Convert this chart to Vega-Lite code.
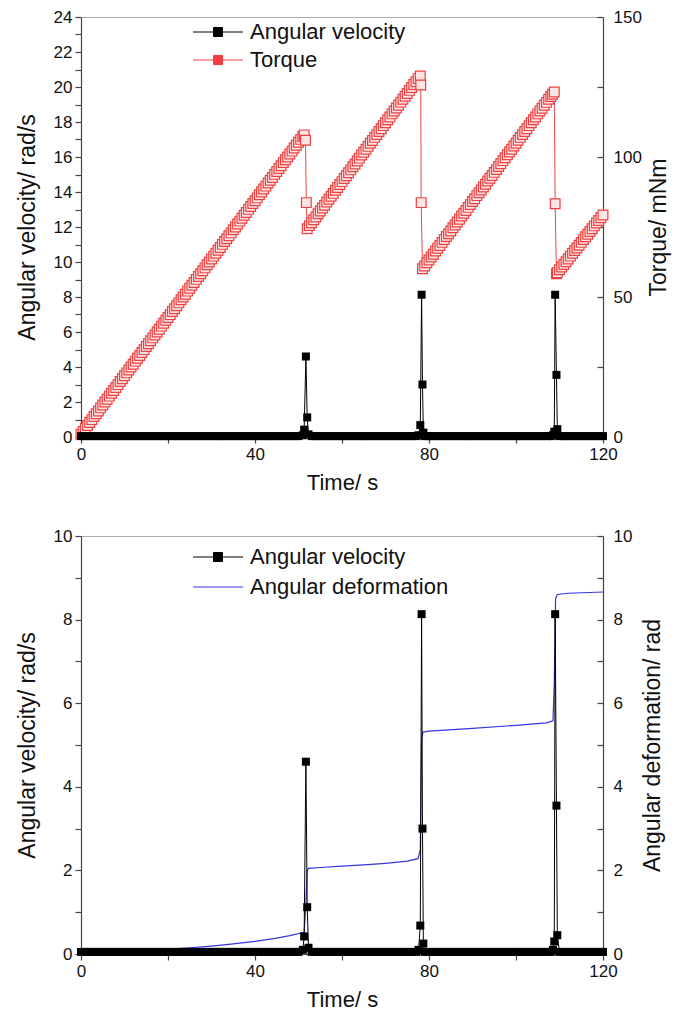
{
  "$schema": "https://vega.github.io/schema/vega-lite/v6.json",
  "padding": {"left": 15, "top": 7, "right": 5, "bottom": 3},
  "config": {
    "font": "Liberation Sans",
    "view": {"stroke": "#aaaaaa", "strokeWidth": 1},
    "axis": {"labelFontSize": 17, "titleFontSize": 22, "titleFontWeight": "normal", "labelColor": "#111111", "titleColor": "#111111", "domainColor": "#444444", "tickColor": "#444444", "domainWidth": 1.2, "tickWidth": 1.2, "grid": false, "tickSize": 6, "labelPadding": 3, "labelFlush": false, "labelOverlap": false}
  },
  "datasets": {
    "velocity": [
      {"t":0,"v":0.05},{"t":1,"v":0.05},{"t":2,"v":0.05},{"t":3,"v":0.05},{"t":4,"v":0.05},{"t":5,"v":0.05},{"t":6,"v":0.05},{"t":7,"v":0.05},{"t":8,"v":0.05},{"t":9,"v":0.05},
      {"t":10,"v":0.05},{"t":11,"v":0.05},{"t":12,"v":0.05},{"t":13,"v":0.05},{"t":14,"v":0.05},{"t":15,"v":0.05},{"t":16,"v":0.05},{"t":17,"v":0.05},{"t":18,"v":0.05},{"t":19,"v":0.05},
      {"t":20,"v":0.05},{"t":21,"v":0.05},{"t":22,"v":0.05},{"t":23,"v":0.05},{"t":24,"v":0.05},{"t":25,"v":0.05},{"t":26,"v":0.05},{"t":27,"v":0.05},{"t":28,"v":0.05},{"t":29,"v":0.05},
      {"t":30,"v":0.05},{"t":31,"v":0.05},{"t":32,"v":0.05},{"t":33,"v":0.05},{"t":34,"v":0.05},{"t":35,"v":0.05},{"t":36,"v":0.05},{"t":37,"v":0.05},{"t":38,"v":0.05},{"t":39,"v":0.05},
      {"t":40,"v":0.05},{"t":41,"v":0.05},{"t":42,"v":0.05},{"t":43,"v":0.05},{"t":44,"v":0.05},{"t":45,"v":0.05},{"t":46,"v":0.05},{"t":47,"v":0.05},{"t":48,"v":0.05},{"t":49,"v":0.05},
      {"t":50,"v":0.05},{"t":51,"v":0.1},{"t":51.3,"v":0.42},{"t":51.7,"v":4.6},{"t":52.0,"v":1.12},{"t":52.3,"v":0.15},
      {"t":53,"v":0.05},{"t":54,"v":0.05},{"t":55,"v":0.05},{"t":56,"v":0.05},{"t":57,"v":0.05},{"t":58,"v":0.05},{"t":59,"v":0.05},{"t":60,"v":0.05},{"t":61,"v":0.05},{"t":62,"v":0.05},
      {"t":63,"v":0.05},{"t":64,"v":0.05},{"t":65,"v":0.05},{"t":66,"v":0.05},{"t":67,"v":0.05},{"t":68,"v":0.05},{"t":69,"v":0.05},{"t":70,"v":0.05},{"t":71,"v":0.05},{"t":72,"v":0.05},
      {"t":73,"v":0.05},{"t":74,"v":0.05},{"t":75,"v":0.05},{"t":76,"v":0.05},{"t":77,"v":0.05},
      {"t":77.6,"v":0.1},{"t":78.0,"v":0.68},{"t":78.3,"v":8.13},{"t":78.5,"v":3.0},{"t":78.7,"v":0.25},
      {"t":79,"v":0.05},{"t":80,"v":0.05},{"t":81,"v":0.05},{"t":82,"v":0.05},{"t":83,"v":0.05},{"t":84,"v":0.05},{"t":85,"v":0.05},{"t":86,"v":0.05},{"t":87,"v":0.05},{"t":88,"v":0.05},
      {"t":89,"v":0.05},{"t":90,"v":0.05},{"t":91,"v":0.05},{"t":92,"v":0.05},{"t":93,"v":0.05},{"t":94,"v":0.05},{"t":95,"v":0.05},{"t":96,"v":0.05},{"t":97,"v":0.05},{"t":98,"v":0.05},
      {"t":99,"v":0.05},{"t":100,"v":0.05},{"t":101,"v":0.05},{"t":102,"v":0.05},{"t":103,"v":0.05},{"t":104,"v":0.05},{"t":105,"v":0.05},{"t":106,"v":0.05},{"t":107,"v":0.05},{"t":108,"v":0.05},
      {"t":108.5,"v":0.1},{"t":108.8,"v":0.3},{"t":109.0,"v":8.13},{"t":109.3,"v":3.55},{"t":109.5,"v":0.45},
      {"t":110,"v":0.05},{"t":111,"v":0.05},{"t":112,"v":0.05},{"t":113,"v":0.05},{"t":114,"v":0.05},{"t":115,"v":0.05},{"t":116,"v":0.05},{"t":117,"v":0.05},{"t":118,"v":0.05},{"t":119,"v":0.05},{"t":120,"v":0.05}
    ],
    "torque": [
      {"t":0,"q":1.0},{"t":0.5,"q":2.0},{"t":1,"q":3.1},{"t":1.5,"q":4.1},{"t":2,"q":5.2},{"t":2.5,"q":6.2},{"t":3,"q":7.3},{"t":3.5,"q":8.3},{"t":4,"q":9.3},{"t":4.5,"q":10.4},
      {"t":5,"q":11.4},{"t":5.5,"q":12.5},{"t":6,"q":13.5},{"t":6.5,"q":14.6},{"t":7,"q":15.6},{"t":7.5,"q":16.6},{"t":8,"q":17.7},{"t":8.5,"q":18.7},{"t":9,"q":19.8},{"t":9.5,"q":20.8},
      {"t":10,"q":21.9},{"t":10.5,"q":22.9},{"t":11,"q":23.9},{"t":11.5,"q":25.0},{"t":12,"q":26.0},{"t":12.5,"q":27.1},{"t":13,"q":28.1},{"t":13.5,"q":29.1},{"t":14,"q":30.2},{"t":14.5,"q":31.2},
      {"t":15,"q":32.3},{"t":15.5,"q":33.3},{"t":16,"q":34.4},{"t":16.5,"q":35.4},{"t":17,"q":36.4},{"t":17.5,"q":37.5},{"t":18,"q":38.5},{"t":18.5,"q":39.6},{"t":19,"q":40.6},{"t":19.5,"q":41.7},
      {"t":20,"q":42.7},{"t":20.5,"q":43.7},{"t":21,"q":44.8},{"t":21.5,"q":45.8},{"t":22,"q":46.9},{"t":22.5,"q":47.9},{"t":23,"q":49.0},{"t":23.5,"q":50.0},{"t":24,"q":51.0},{"t":24.5,"q":52.1},
      {"t":25,"q":53.1},{"t":25.5,"q":54.2},{"t":26,"q":55.2},{"t":26.5,"q":56.3},{"t":27,"q":57.3},{"t":27.5,"q":58.3},{"t":28,"q":59.4},{"t":28.5,"q":60.4},{"t":29,"q":61.5},{"t":29.5,"q":62.5},
      {"t":30,"q":63.6},{"t":30.5,"q":64.6},{"t":31,"q":65.6},{"t":31.5,"q":66.7},{"t":32,"q":67.7},{"t":32.5,"q":68.8},{"t":33,"q":69.8},{"t":33.5,"q":70.8},{"t":34,"q":71.9},{"t":34.5,"q":72.9},
      {"t":35,"q":74.0},{"t":35.5,"q":75.0},{"t":36,"q":76.1},{"t":36.5,"q":77.1},{"t":37,"q":78.1},{"t":37.5,"q":79.2},{"t":38,"q":80.2},{"t":38.5,"q":81.3},{"t":39,"q":82.3},{"t":39.5,"q":83.4},
      {"t":40,"q":84.4},{"t":40.5,"q":85.4},{"t":41,"q":86.5},{"t":41.5,"q":87.5},{"t":42,"q":88.6},{"t":42.5,"q":89.6},{"t":43,"q":90.7},{"t":43.5,"q":91.7},{"t":44,"q":92.7},{"t":44.5,"q":93.8},
      {"t":45,"q":94.8},{"t":45.5,"q":95.9},{"t":46,"q":96.9},{"t":46.5,"q":98.0},{"t":47,"q":99.0},{"t":47.5,"q":100.0},{"t":48,"q":101.1},{"t":48.5,"q":102.1},{"t":49,"q":103.2},{"t":49.5,"q":104.2},
      {"t":50,"q":105.3},{"t":50.5,"q":106.3},{"t":51,"q":107.3},{"t":51.3,"q":107.9},{"t":51.6,"q":106.0},{"t":51.8,"q":83.7},{"t":52.0,"q":74.4},
      {"t":52.5,"q":75.5},{"t":53,"q":76.5},{"t":53.5,"q":77.6},{"t":54,"q":78.6},{"t":54.5,"q":79.7},{"t":55,"q":80.7},{"t":55.5,"q":81.8},{"t":56,"q":82.8},{"t":56.5,"q":83.9},{"t":57,"q":84.9},
      {"t":57.5,"q":86.0},{"t":58,"q":87.0},{"t":58.5,"q":88.1},{"t":59,"q":89.1},{"t":59.5,"q":90.2},{"t":60,"q":91.2},{"t":60.5,"q":92.3},{"t":61,"q":93.3},{"t":61.5,"q":94.4},{"t":62,"q":95.4},
      {"t":62.5,"q":96.5},{"t":63,"q":97.5},{"t":63.5,"q":98.6},{"t":64,"q":99.6},{"t":64.5,"q":100.7},{"t":65,"q":101.7},{"t":65.5,"q":102.8},{"t":66,"q":103.8},{"t":66.5,"q":104.9},{"t":67,"q":105.9},
      {"t":67.5,"q":107.0},{"t":68,"q":108.0},{"t":68.5,"q":109.1},{"t":69,"q":110.1},{"t":69.5,"q":111.2},{"t":70,"q":112.2},{"t":70.5,"q":113.3},{"t":71,"q":114.3},{"t":71.5,"q":115.4},{"t":72,"q":116.4},
      {"t":72.5,"q":117.5},{"t":73,"q":118.5},{"t":73.5,"q":119.6},{"t":74,"q":120.6},{"t":74.5,"q":121.7},{"t":75,"q":122.7},{"t":75.5,"q":123.8},{"t":76,"q":124.8},{"t":76.5,"q":125.9},{"t":77,"q":126.9},
      {"t":77.5,"q":128.0},{"t":78,"q":128.9},{"t":78.1,"q":125.7},{"t":78.2,"q":83.7},{"t":78.5,"q":60.1},
      {"t":79,"q":61.1},{"t":79.5,"q":62.2},{"t":80,"q":63.2},{"t":80.5,"q":64.3},{"t":81,"q":65.3},{"t":81.5,"q":66.4},{"t":82,"q":67.4},{"t":82.5,"q":68.4},{"t":83,"q":69.5},{"t":83.5,"q":70.5},
      {"t":84,"q":71.6},{"t":84.5,"q":72.6},{"t":85,"q":73.6},{"t":85.5,"q":74.7},{"t":86,"q":75.7},{"t":86.5,"q":76.8},{"t":87,"q":77.8},{"t":87.5,"q":78.9},{"t":88,"q":79.9},{"t":88.5,"q":80.9},
      {"t":89,"q":82.0},{"t":89.5,"q":83.0},{"t":90,"q":84.1},{"t":90.5,"q":85.1},{"t":91,"q":86.2},{"t":91.5,"q":87.2},{"t":92,"q":88.2},{"t":92.5,"q":89.3},{"t":93,"q":90.3},{"t":93.5,"q":91.4},
      {"t":94,"q":92.4},{"t":94.5,"q":93.4},{"t":95,"q":94.5},{"t":95.5,"q":95.5},{"t":96,"q":96.6},{"t":96.5,"q":97.6},{"t":97,"q":98.7},{"t":97.5,"q":99.7},{"t":98,"q":100.8},{"t":98.5,"q":101.8},
      {"t":99,"q":102.8},{"t":99.5,"q":103.9},{"t":100,"q":104.9},{"t":100.5,"q":106.0},{"t":101,"q":107.0},{"t":101.5,"q":108.0},{"t":102,"q":109.1},{"t":102.5,"q":110.1},{"t":103,"q":111.2},{"t":103.5,"q":112.2},
      {"t":104,"q":113.3},{"t":104.5,"q":114.3},{"t":105,"q":115.4},{"t":105.5,"q":116.4},{"t":106,"q":117.4},{"t":106.5,"q":118.5},{"t":107,"q":119.5},{"t":107.5,"q":120.6},{"t":108,"q":121.6},{"t":108.4,"q":122.4},
      {"t":108.8,"q":123.2},{"t":109.0,"q":83.3},{"t":109.3,"q":58.3},
      {"t":109.5,"q":58.7},{"t":110,"q":59.7},{"t":110.5,"q":60.7},{"t":111,"q":61.6},{"t":111.5,"q":62.6},{"t":112,"q":63.6},{"t":112.5,"q":64.6},{"t":113,"q":65.6},{"t":113.5,"q":66.6},{"t":114,"q":67.5},
      {"t":114.5,"q":68.5},{"t":115,"q":69.5},{"t":115.5,"q":70.5},{"t":116,"q":71.5},{"t":116.5,"q":72.4},{"t":117,"q":73.4},{"t":117.5,"q":74.4},{"t":118,"q":75.4},{"t":118.5,"q":76.4},{"t":119,"q":77.3},
      {"t":119.5,"q":78.3},{"t":120,"q":79.3}
    ],
    "deformation": [
      {"t":0,"d":0.03},{"t":10,"d":0.06},{"t":20,"d":0.12},{"t":25,"d":0.15},{"t":30,"d":0.19},{"t":35,"d":0.24},{"t":40,"d":0.3},{"t":45,"d":0.38},{"t":48,"d":0.44},{"t":51.3,"d":0.52},
      {"t":51.7,"d":1.2},{"t":52.0,"d":2.0},{"t":52.3,"d":2.05},{"t":55,"d":2.07},{"t":60,"d":2.1},{"t":65,"d":2.13},{"t":70,"d":2.17},{"t":75,"d":2.22},{"t":77.5,"d":2.28},{"t":78.0,"d":2.5},
      {"t":78.3,"d":5.1},{"t":78.6,"d":5.31},{"t":80,"d":5.33},{"t":90,"d":5.4},{"t":100,"d":5.47},{"t":107,"d":5.53},{"t":108.5,"d":5.58},{"t":108.8,"d":6.5},{"t":109.1,"d":8.5},{"t":109.5,"d":8.6},
      {"t":112,"d":8.63},{"t":120,"d":8.66}
    ]
  },
  "vconcat": [
    {
      "width": 522,
      "height": 420,
      "layer": [
        {
          "data": {"name": "torque"},
          "encoding": {
            "x": {"field": "t", "type": "quantitative", "scale": {"domain": [0, 120], "nice": false}, "axis": {"values": [0,20,40,60,80,100,120], "labelExpr": "datum.value % 40 === 0 ? datum.label : ''", "title": "Time/ s", "titlePadding": 10}},
            "y": {"field": "q", "type": "quantitative", "scale": {"domain": [0, 150], "nice": false}, "axis": {"orient": "right", "values": [0,25,50,75,100,125,150], "labelExpr": "datum.value % 50 === 0 ? datum.label : ''", "title": "Torque/ mNm", "titleFontSize": 23, "tickSize": -6, "labelPadding": 16, "titleAngle": 270, "titleBaseline": "top", "titlePadding": 6}}
          },
          "layer": [
            {"mark": {"type": "line", "color": "#ee4444", "strokeWidth": 1}},
            {"mark": {"type": "point", "shape": "square", "filled": false, "fill": "#fde4e4", "fillOpacity": 1, "size": 95, "strokeWidth": 1.2, "opacity": 1},
             "encoding": {"color": {"datum": "Torque", "type": "nominal", "scale": {"domain": ["Angular velocity", "Torque"], "range": ["#000000", "#ee4040"]},
               "legend": {"orient": "none", "legendX": 124, "legendY": 2, "title": null, "symbolType": "M-2,0H-0.36M0.36,0H2M-0.36,-0.36H0.36V0.36H-0.36Z", "symbolSize": 625, "symbolStrokeWidth": 1, "labelFontSize": 22, "labelColor": "#111111", "labelLimit": 400, "rowPadding": 4, "labelOffset": 19,
                 "encode": {"symbols": {"update": {"shape": {"signal": "datum.value === 'Torque' ? 'M-2,0H-0.36M0.36,0H2M-0.36,-0.36H0.36M0.36,-0.36V0.36M0.36,0.36H-0.36M-0.36,0.36V-0.36' : 'M-2,0H-0.36M0.36,0H2M-0.36,-0.36H0.36V0.36H-0.36Z'"}, "fill": {"signal": "datum.value === 'Torque' ? 'transparent' : '#000000'"}, "stroke": {"signal": "datum.value === 'Torque' ? '#ee4040' : '#000000'"}, "strokeWidth": {"value": 1}, "opacity": {"value": 1}}}}}}}}
          ]
        },
        {
          "data": {"name": "velocity"},
          "encoding": {
            "x": {"field": "t", "type": "quantitative", "scale": {"domain": [0, 120], "nice": false}},
            "y": {"field": "v", "type": "quantitative", "scale": {"domain": [0, 24], "nice": false}, "axis": {"orient": "left", "values": [0,1,2,3,4,5,6,7,8,9,10,11,12,13,14,15,16,17,18,19,20,21,22,23,24], "labelExpr": "datum.value % 2 === 0 ? datum.label : ''", "title": "Angular velocity/ rad/s", "titleFontSize": 23, "titlePadding": 14}}
          },
          "layer": [
            {"mark": {"type": "line", "color": "#000000", "strokeWidth": 1}},
            {"mark": {"type": "point", "shape": "square", "filled": true, "size": 64, "opacity": 1},
             "encoding": {"color": {"datum": "Angular velocity", "type": "nominal"}}},
            {"data": {"values": [{"lab": "(a)"}]},
             "mark": {"type": "text", "align": "left", "baseline": "middle", "fontSize": 26, "fontWeight": "bold", "color": "#111111"},
             "encoding": {"x": {"datum": 0.9}, "y": {"datum": 22.6}, "text": {"field": "lab"}}}
          ]
        }
      ],
      "resolve": {"scale": {"y": "independent"}, "axis": {"y": "independent"}}
    },
    {
      "width": 522,
      "height": 418,
      "layer": [
        {
          "data": {"name": "deformation"},
          "encoding": {
            "x": {"field": "t", "type": "quantitative", "scale": {"domain": [0, 120], "nice": false}, "axis": {"values": [0,20,40,60,80,100,120], "labelExpr": "datum.value % 40 === 0 ? datum.label : ''", "title": "Time/ s", "titlePadding": 10}},
            "y": {"field": "d", "type": "quantitative", "scale": {"domain": [0, 10], "nice": false}, "axis": {"orient": "right", "values": [0,1,2,3,4,5,6,7,8,9,10], "labelExpr": "datum.value % 2 === 0 ? datum.label : ''", "title": "Angular deformation/ rad", "titleFontSize": 23, "tickSize": -6, "labelPadding": 16, "titleAngle": 270, "titleBaseline": "top", "titlePadding": 10}}
          },
          "layer": [
            {"mark": {"type": "line", "strokeWidth": 1.2},
             "encoding": {"color": {"datum": "Angular deformation", "type": "nominal", "scale": {"domain": ["Angular velocity", "Angular deformation"], "range": ["#000000", "#3535dd"]},
               "legend": {"orient": "none", "legendX": 124, "legendY": 8, "title": null, "symbolType": "M-2,0H-0.36M0.36,0H2M-0.36,-0.36H0.36V0.36H-0.36Z", "symbolSize": 625, "symbolStrokeWidth": 1, "labelFontSize": 22, "labelColor": "#111111", "labelLimit": 400, "rowPadding": 6, "labelOffset": 19,
                 "encode": {"symbols": {"update": {"shape": {"signal": "datum.value === 'Angular deformation' ? 'M-2,0H2' : 'M-2,0H-0.36M0.36,0H2M-0.36,-0.36H0.36V0.36H-0.36Z'"}, "fill": {"signal": "datum.value === 'Angular deformation' ? 'transparent' : '#000000'"}, "stroke": {"signal": "datum.value === 'Angular deformation' ? '#3535dd' : '#000000'"}, "strokeWidth": {"value": 1}, "opacity": {"value": 1}}}}}}}}
          ]
        },
        {
          "data": {"name": "velocity"},
          "encoding": {
            "x": {"field": "t", "type": "quantitative", "scale": {"domain": [0, 120], "nice": false}},
            "y": {"field": "v", "type": "quantitative", "scale": {"domain": [0, 10], "nice": false}, "axis": {"orient": "left", "values": [0,1,2,3,4,5,6,7,8,9,10], "labelExpr": "datum.value % 2 === 0 ? datum.label : ''", "title": "Angular velocity/ rad/s", "titleFontSize": 23, "titlePadding": 14}}
          },
          "layer": [
            {"mark": {"type": "line", "color": "#000000", "strokeWidth": 1}},
            {"mark": {"type": "point", "shape": "square", "filled": true, "size": 64, "opacity": 1},
             "encoding": {"color": {"datum": "Angular velocity", "type": "nominal"}}},
            {"data": {"values": [{"lab": "(b)"}]},
             "mark": {"type": "text", "align": "left", "baseline": "middle", "fontSize": 26, "fontWeight": "bold", "color": "#111111"},
             "encoding": {"x": {"datum": 0.9}, "y": {"datum": 9.5}, "text": {"field": "lab"}}}
          ]
        }
      ],
      "resolve": {"scale": {"y": "independent"}, "axis": {"y": "independent"}}
    }
  ],
  "spacing": 32,
  "resolve": {"scale": {"color": "independent"}, "legend": {"color": "independent"}}
}
